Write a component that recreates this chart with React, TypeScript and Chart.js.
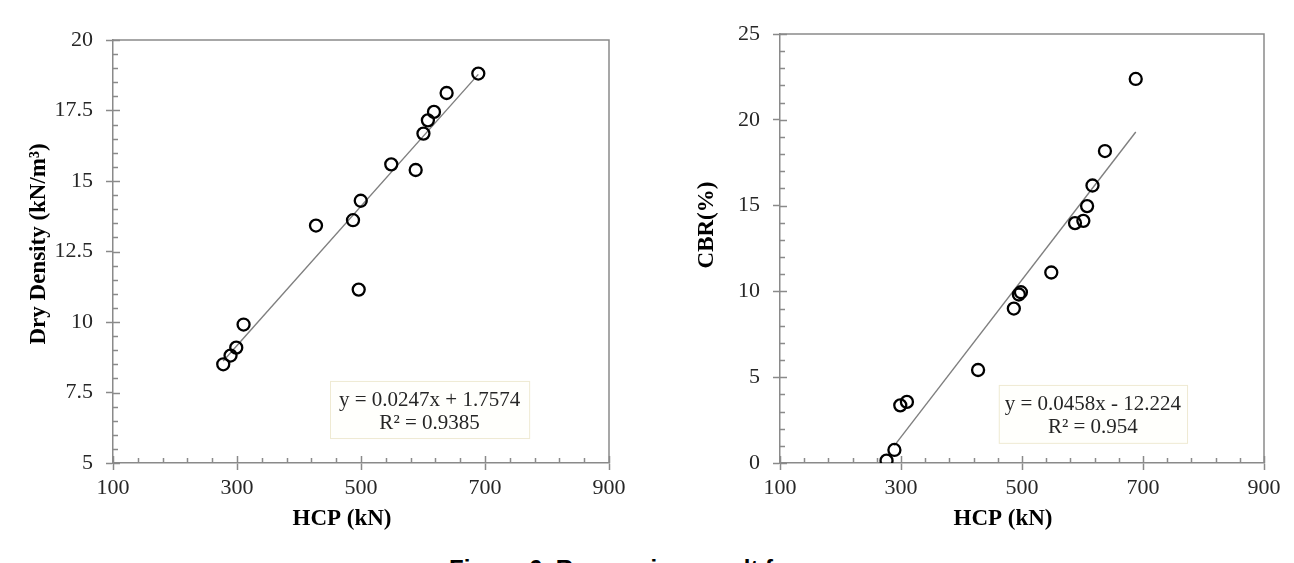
import React, { useEffect, useRef } from 'react';
import { Chart, registerables } from 'chart.js';

Chart.register(...registerables);

// ---------- data ----------
const xTicks = [100, 300, 500, 700, 900];
const densityTicks = [5, 7.5, 10, 12.5, 15, 17.5, 20];
const cbrTicks = [0, 5, 10, 15, 20, 25];

const hcpDensity = [277.8, 289.6, 298.8, 310.6, 427.4, 487.1, 499.6, 496.3, 548.8, 588.2, 600.7, 607.9, 617.7, 638.1, 689.2];
const dryDensity = [8.5, 8.81, 9.09, 9.91, 13.42, 13.61, 14.3, 11.15, 15.59, 15.39, 16.68, 17.15, 17.45, 18.12, 18.81];

const hcpCbr = [276.1, 289.1, 298.8, 309.8, 427.4, 486.5, 494.8, 498.2, 548.4, 587.6, 601.4, 607.6, 616.5, 637.1, 688.0];
const cbrValues = [0.14, 0.76, 3.36, 3.56, 5.42, 9.0, 9.82, 9.95, 11.1, 13.98, 14.11, 14.97, 16.17, 18.18, 22.38];

const densityFit = [0.0247, 1.7574]; // slope, intercept
const densityFitRange = [277.8, 689.2];
const cbrFit = [0.0458, -12.224];
const cbrFitRange = [289, 688];

const densityEquation = ['y = 0.0247x + 1.7574', 'R² = 0.9385'];
const cbrEquation = ['y = 0.0458x - 12.224', 'R² = 0.954'];

const xTitle = 'HCP (kN)';
const densityTitle = 'Dry Density (kN/m³)';
const cbrTitle = 'CBR(%)';
const caption = 'Figure 6. Regression result for';

// ---------- styles ----------
const SERIF = "'Liberation Serif', 'Times New Roman', serif";
const AXIS = '#8a8a8a';
const LABEL = '#262626';

type PanelSpec = {
  xs: number[];
  ys: number[];
  fit: number[];
  fitRange: number[];
  yTicks: number[];
  yMin: number;
  yMax: number;
  yMinor: number;
  equation: string[];
  yTitle: string;
  canvasWidth: number;
  yAxisWidth: number;
  padRight: number;
  padTop: number;
  box: { l: number; t: number; r: number; b: number; line1: number; line2: number };
  yTitlePos: { x: number; y: number };
  xTitlePos: { x: number; y: number };
};

const CANVAS_H = 530;
const PLOT_BOTTOM = 463;

function buildConfig(spec: PanelSpec): any {
  const points = spec.xs.map((x, i) => ({ x, y: spec.ys[i] }));
  const fitLine = spec.fitRange.map((x) => ({ x, y: spec.fit[0] * x + spec.fit[1] }));

  const deco = {
    id: 'deco',
    afterDraw(chart: any) {
      const { ctx, chartArea: a, scales } = chart;
      const xs = scales.x;
      const ys = scales.y;
      ctx.save();
      ctx.strokeStyle = AXIS;
      ctx.lineWidth = 1.5;
      // top and right frame
      ctx.beginPath();
      ctx.moveTo(a.left, a.top);
      ctx.lineTo(a.right, a.top);
      ctx.lineTo(a.right, a.bottom);
      ctx.stroke();

      // inside ticks x
      const xMinor = 40;
      const nx = Math.round((xs.max - xs.min) / xMinor);
      ctx.beginPath();
      for (let i = 0; i <= nx; i++) {
        const v = xs.min + i * xMinor;
        const px = Math.round(xs.getPixelForValue(v)) + 0.5;
        const major = xTicks.some((t) => Math.abs(t - v) < 1e-6);
        const len = major ? 7 : 5;
        ctx.moveTo(px, a.bottom);
        ctx.lineTo(px, a.bottom - len);
      }
      // inside ticks y
      const ny = Math.round((ys.max - ys.min) / spec.yMinor);
      for (let i = 0; i <= ny; i++) {
        const v = ys.min + i * spec.yMinor;
        const py = Math.round(ys.getPixelForValue(v)) + 0.5;
        const major = spec.yTicks.some((t) => Math.abs(t - v) < 1e-6);
        const len = major ? 7 : 5;
        ctx.moveTo(a.left, py);
        ctx.lineTo(a.left + len, py);
      }
      ctx.stroke();

      // equation box
      const W = a.right - a.left;
      const H = a.bottom - a.top;
      const bl = a.left + spec.box.l * W;
      const br = a.left + spec.box.r * W;
      const bt = a.top + spec.box.t * H;
      const bb = a.top + spec.box.b * H;
      ctx.fillStyle = '#fffffc';
      ctx.fillRect(bl, bt, br - bl, bb - bt);
      ctx.strokeStyle = '#efead2';
      ctx.lineWidth = 1;
      ctx.strokeRect(bl + 0.5, bt + 0.5, br - bl, bb - bt);
      ctx.fillStyle = LABEL;
      ctx.font = `21px ${SERIF}`;
      ctx.textAlign = 'center';
      ctx.textBaseline = 'middle';
      const cx = (bl + br) / 2;
      ctx.fillText(spec.equation[0], cx, spec.box.line1);
      ctx.fillText(spec.equation[1], cx, spec.box.line2);

      // axis titles
      ctx.fillStyle = '#000';
      ctx.font = `bold 23px ${SERIF}`;
      ctx.textBaseline = 'alphabetic';
      ctx.textAlign = 'center';
      ctx.fillText(xTitle, spec.xTitlePos.x, spec.xTitlePos.y);
      ctx.save();
      ctx.translate(spec.yTitlePos.x, spec.yTitlePos.y);
      ctx.rotate(-Math.PI / 2);
      ctx.fillText(spec.yTitle, 0, 0);
      ctx.restore();
      ctx.restore();
    },
  };

  const tickFont = { family: SERIF, size: 22 };

  return {
    type: 'scatter',
    data: {
      datasets: [
        {
          data: points,
          showLine: false,
          pointStyle: 'circle',
          pointRadius: 6,
          pointHoverRadius: 6,
          pointBorderWidth: 2.3,
          pointBorderColor: '#000',
          pointBackgroundColor: 'rgba(0,0,0,0)',
        },
        {
          data: fitLine,
          showLine: true,
          borderColor: '#7f7f7f',
          borderWidth: 1.4,
          pointRadius: 0,
          pointHoverRadius: 0,
          fill: false,
        },
      ],
    },
    options: {
      animation: false,
      responsive: false,
      events: [],
      layout: { padding: { left: 0, right: spec.padRight, top: spec.padTop, bottom: 0 } },
      plugins: { legend: { display: false }, tooltip: { enabled: false }, title: { display: false } },
      scales: {
        x: {
          type: 'linear',
          min: 100,
          max: 900,
          afterBuildTicks: (s: any) => {
            s.ticks = xTicks.map((v) => ({ value: v }));
          },
          afterFit: (s: any) => {
            s.height = CANVAS_H - PLOT_BOTTOM;
          },
          ticks: {
            font: tickFont,
            color: LABEL,
            padding: 5,
            maxRotation: 0,
            autoSkip: false,
            callback: (v: any) => String(v),
          },
          grid: {
            display: true,
            drawOnChartArea: false,
            drawTicks: true,
            tickLength: 7,
            tickColor: AXIS,
            tickWidth: 1.5,
          },
          border: { display: true, color: AXIS, width: 1.5 },
        },
        y: {
          type: 'linear',
          min: spec.yMin,
          max: spec.yMax,
          afterBuildTicks: (s: any) => {
            s.ticks = spec.yTicks.map((v) => ({ value: v }));
          },
          afterFit: (s: any) => {
            s.width = spec.yAxisWidth;
          },
          ticks: {
            font: tickFont,
            color: LABEL,
            padding: 13,
            autoSkip: false,
            callback: (v: any) => String(v),
          },
          grid: {
            display: true,
            drawOnChartArea: false,
            drawTicks: true,
            tickLength: 7,
            tickColor: AXIS,
            tickWidth: 1.5,
          },
          border: { display: true, color: AXIS, width: 1.5 },
        },
      },
    },
    plugins: [deco],
  };
}

const leftSpec: PanelSpec = {
  xs: hcpDensity,
  ys: dryDensity,
  fit: densityFit,
  fitRange: densityFitRange,
  yTicks: densityTicks,
  yMin: 5,
  yMax: 20,
  yMinor: 0.5,
  equation: densityEquation,
  yTitle: densityTitle,
  canvasWidth: 640,
  yAxisWidth: 113,
  padRight: 31,
  padTop: 40,
  box: { l: 0.4375, t: 0.806, r: 0.839, b: 0.941, line1: 400, line2: 423 },
  yTitlePos: { x: 45, y: 244 },
  xTitlePos: { x: 342, y: 525 },
};

const rightSpec: PanelSpec = {
  xs: hcpCbr,
  ys: cbrValues,
  fit: cbrFit,
  fitRange: cbrFitRange,
  yTicks: cbrTicks,
  yMin: 0,
  yMax: 25,
  yMinor: 1,
  equation: cbrEquation,
  yTitle: cbrTitle,
  canvasWidth: 654,
  yAxisWidth: 140,
  padRight: 30,
  padTop: 34,
  box: { l: 0.452, t: 0.818, r: 0.841, b: 0.953, line1: 404, line2: 427 },
  yTitlePos: { x: 73, y: 225 },
  xTitlePos: { x: 363, y: 525 },
};

function Panel({ spec, left }: { spec: PanelSpec; left: number }) {
  const ref = useRef<HTMLCanvasElement>(null);
  useEffect(() => {
    const chart = new Chart(ref.current as HTMLCanvasElement, buildConfig(spec));
    return () => chart.destroy();
  }, [spec]);
  return (
    <canvas
      ref={ref}
      width={spec.canvasWidth}
      height={CANVAS_H}
      style={{ position: 'absolute', left, top: 0, width: spec.canvasWidth, height: CANVAS_H }}
    />
  );
}

export default function App() {
  return (
    <div style={{ position: 'absolute', left: 0, top: 0, width: 1294, height: 563, background: '#fff', overflow: 'hidden' }}>
      <Panel spec={leftSpec} left={0} />
      <Panel spec={rightSpec} left={640} />
      <div
        style={{
          position: 'absolute',
          left: 449,
          top: 557,
          font: "bold 24px 'Liberation Sans', Arial, sans-serif",
          lineHeight: '24px',
          whiteSpace: 'nowrap',
          color: '#000',
        }}
      >
        {caption}
      </div>
    </div>
  );
}
